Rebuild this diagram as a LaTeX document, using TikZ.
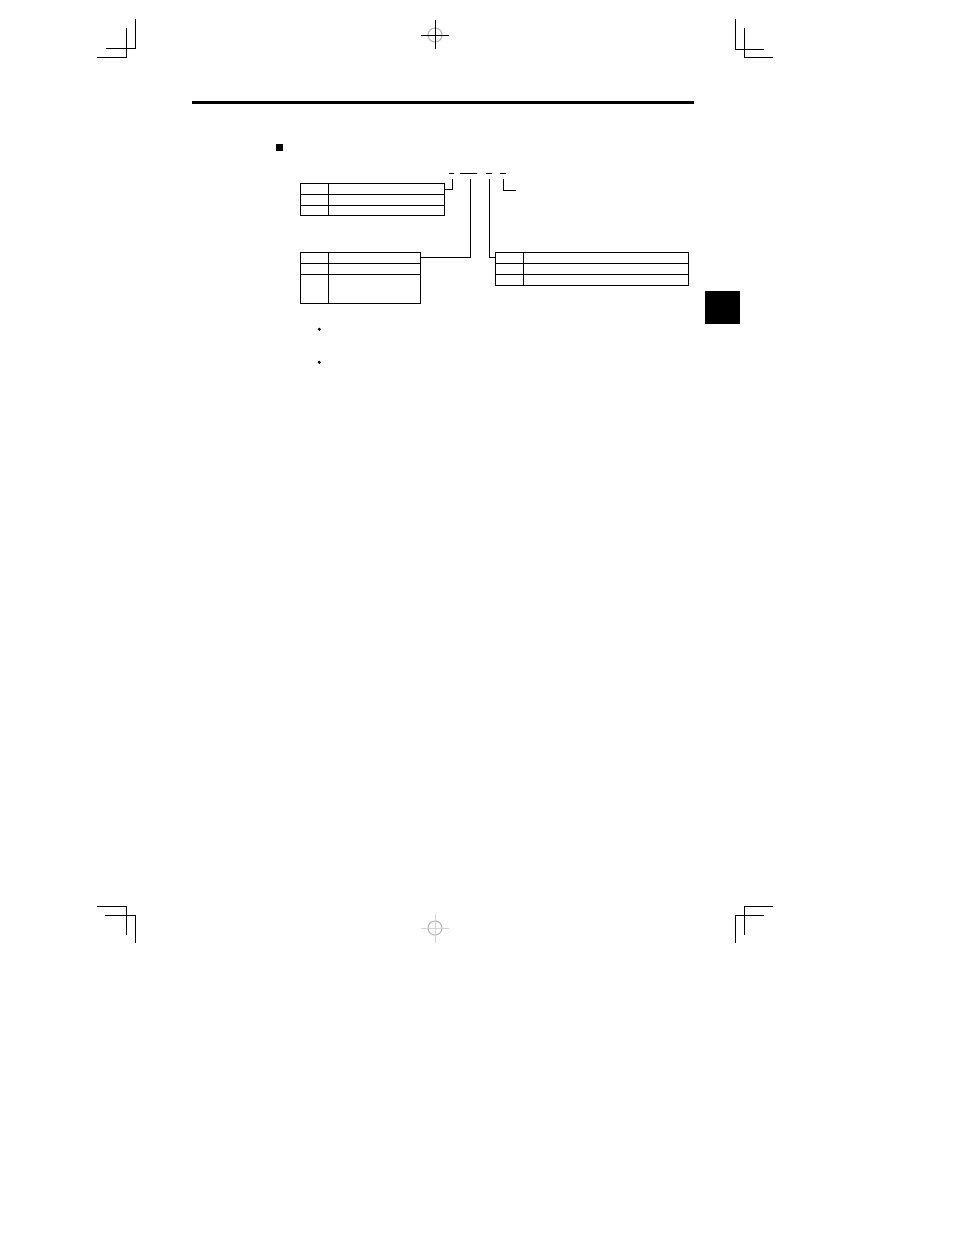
\documentclass[tikz,border=0pt]{standalone}
\begin{document}
\begin{tikzpicture}[x=1pt, y=-1pt, line width=1pt,
  cell/.style={draw, inner sep=0pt, outer sep=0pt, anchor=north west, minimum height=11pt},
  dashbar/.style={draw, inner sep=0pt, outer sep=0pt, minimum height=0pt},
  cropmark/.style={line width=1pt},
  regmark/.style={line width=1pt}]
\useasboundingbox (0,0) rectangle (954,1235);
% header rule, bullet and side tab
\draw[line width=3pt] (192,102.3) -- (694,102.3);
\fill (275.7,144) rectangle (282.7,151);
\fill (705,291) rectangle (740,324);
\fill (319.3,329.3) circle (1.7);
\fill (319.3,362.3) circle (1.7);
% code dashes
\node[dashbar, minimum width=5pt] (d1) at (451.5,173.7) {};
\node[dashbar, minimum width=17pt] (d2) at (468.5,173.7) {};
\node[dashbar, minimum width=6pt] (d3) at (489,173.7) {};
\node[dashbar, minimum width=6pt] (d4) at (503,173.7) {};
\coordinate (c1) at (452,178.5);
\coordinate (c2) at (470,178.5);
\coordinate (c3) at (489,178.5);
\coordinate (c4) at (503,178.5);
\coordinate (e4) at (516,190);
% table 1
\node[cell, minimum width=28pt] (ta1) at (300,183) {};
\node[cell, minimum width=116pt] (tb1) at (ta1.north east) {};
\node[cell, minimum width=28pt] (ta2) at (ta1.south west) {};
\node[cell, minimum width=116pt] (tb2) at (ta2.north east) {};
\node[cell, minimum width=28pt, minimum height=10.5pt] (ta3) at (ta2.south west) {};
\node[cell, minimum width=116pt, minimum height=10.5pt] (tb3) at (ta3.north east) {};
% table 2
\node[cell, minimum width=28pt] (sa1) at (300.7,252.3) {};
\node[cell, minimum width=91.3pt] (sb1) at (sa1.north east) {};
\node[cell, minimum width=28pt] (sa2) at (sa1.south west) {};
\node[cell, minimum width=91.3pt] (sb2) at (sa2.north east) {};
\node[cell, minimum width=28pt, minimum height=29pt] (sa3) at (sa2.south west) {};
\node[cell, minimum width=91.3pt, minimum height=29pt] (sb3) at (sa3.north east) {};
% table 3
\node[cell, minimum width=28.3pt] (ua1) at (495,252.3) {};
\node[cell, minimum width=165.4pt] (ub1) at (ua1.north east) {};
\node[cell, minimum width=28.3pt] (ua2) at (ua1.south west) {};
\node[cell, minimum width=165.4pt] (ub2) at (ua2.north east) {};
\node[cell, minimum width=28.3pt, minimum height=10.7pt] (ua3) at (ua2.south west) {};
\node[cell, minimum width=165.4pt, minimum height=10.7pt] (ub3) at (ua3.north east) {};
% leaders
\draw (c1) |- ([yshift=-1.3pt]tb1.east);
\draw (c2) |- (sb1.east);
\draw (c3) |- (ua1.west);
\draw (c4) |- (e4);
% crop marks
\draw[cropmark] (135,19) -- (135,48) -- (106,48);
\draw[cropmark] (126,28) -- (126,57) -- (97,57);
\draw[cropmark] (735,19) -- (735,49) -- (764,49);
\draw[cropmark] (744,28) -- (744,57) -- (773,57);
\draw[cropmark] (97,906) -- (126,906) -- (126,935);
\draw[cropmark] (105,915) -- (135,915) -- (135,943);
\draw[cropmark] (773,906) -- (744,906) -- (744,935);
\draw[cropmark] (764,915) -- (735,915) -- (735,943);
% registration marks
\draw[regmark, gray!60] (435,35) circle (7);
\draw[regmark] (421,35) -- (449,35) (435,20) -- (435,49);
\draw[regmark, gray!60] (435,928) circle (7);
\draw[regmark, gray!35] (421,928) -- (449,928) (435,914) -- (435,943);
\end{tikzpicture}
\end{document}
